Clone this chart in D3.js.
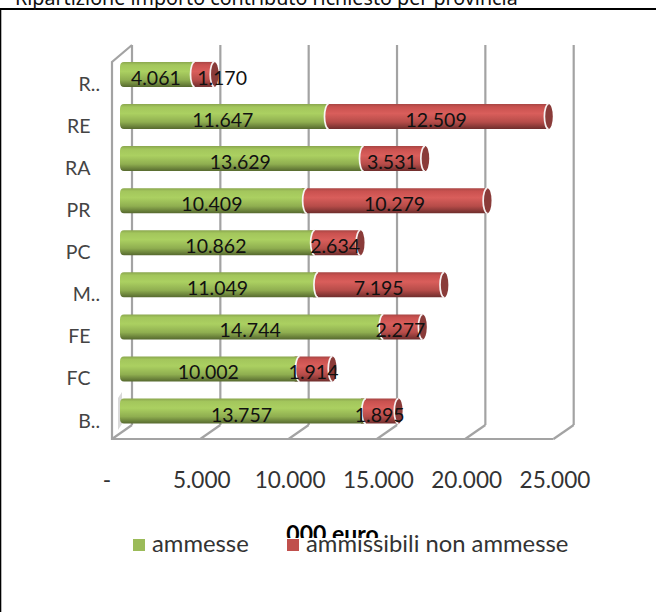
<!DOCTYPE html>
<html><head><meta charset="utf-8">
<script src="https://cdn.jsdelivr.net/npm/d3@7"></script>
<style>html,body{margin:0;padding:0;background:#fff}svg{display:block}</style>
</head><body><div id="c"></div>
<script>
const categories = ["R..","RE","RA","PR","PC","M..","FE","FC","B.."];
const ammesse = [4061,11647,13629,10409,10862,11049,14744,10002,13757];
const nonAmmesse = [1170,12509,3531,10279,2634,7195,2277,1914,1895];
const xTicks = [0,5000,10000,15000,20000,25000];
const xTickLabels = ["-","5.000","10.000","15.000","20.000","25.000"];
const titleText = "Ripartizione importo contributo richiesto per provincia";
const axisTitle = "000 euro";
const legendLabels = ["ammesse","ammissibili non ammesse"];

const W=656,H=612;
const svg=d3.select("#c").append("svg").attr("width",W).attr("height",H);
const defs=svg.append("defs");
function grad(id,stops){
  const g=defs.append("linearGradient").attr("id",id).attr("x1",0).attr("x2",0).attr("y1",0).attr("y2",1);
  stops.forEach(s=>g.append("stop").attr("offset",s[0]).attr("stop-color",s[1]));
}
grad("gG",[[0,"#8aa64e"],[.12,"#a3c65c"],[.38,"#abd061"],[.72,"#8fae50"],[1,"#56692f"]]);
grad("gR",[[0,"#a84644"],[.12,"#c9514f"],[.38,"#d95e5b"],[.72,"#b64c49"],[1,"#6e2d2c"]]);

const font="Lato, 'Open Sans', sans-serif";
// frame
svg.append("line").attr("x1",0).attr("x2",W).attr("y1",9).attr("y2",9).attr("stroke","#000").attr("stroke-width",2);
svg.append("line").attr("x1",0.6).attr("x2",0.6).attr("y1",8).attr("y2",H).attr("stroke","#000").attr("stroke-width",1.4);
svg.append("text").attr("x",15).attr("y",5).attr("font-family","'Noto Sans'").attr("font-size",19.7).attr("fill","#111").text(titleText);

// scales
const xFront=d3.scaleLinear().domain([0,25000]).range([112,553.5]);
const xBack=d3.scaleLinear().domain([0,25000]).range([132,573.7]);
const xBar=d3.scaleLinear().domain([0,25000]).range([120,561.5]);
const y=d3.scaleBand().domain(categories).range([53.5,432]).paddingInner(0.405).paddingOuter(0.2);
const floorY=439,backY=425,wallTop=45,frontTop=62;

const grid="#a3a3a3";
const g=svg.append("g").attr("fill","none").attr("stroke",grid).attr("stroke-width",2.2);
g.selectAll(".v").data(xTicks).join("line").attr("x1",d=>xBack(d)).attr("x2",d=>xBack(d)).attr("y1",wallTop).attr("y2",backY);
g.selectAll(".d").data(xTicks).join("line").attr("x1",d=>xFront(d)).attr("x2",d=>xBack(d)).attr("y1",floorY).attr("y2",backY);
g.append("path").attr("d",`M${xBack(0)},${wallTop}L${xFront(0)},${frontTop}V${floorY}H${xFront(25000)}`);
svg.append("path").attr("d","M118,398L122,392V424L118,430Z").attr("fill","#d9d9d9");

// bars
const bars=svg.selectAll(".bar").data(categories).join("g").attr("transform",d=>`translate(0,${y(d)})`);
const bh=y.bandwidth(),rx=4.2;
const leftArc=(cx)=>`M${cx},0A${rx},${bh/2} 0 0 0 ${cx},${bh}`;
const fmt=v=>d3.format(",")(v).replace(",",".");
bars.each(function(c,i){
  const s=d3.select(this),a=ammesse[i],n=nonAmmesse[i],x0=xBar(0),x1=xBar(a),x2=xBar(a+n);
  // red body, dark end cap and its light rim
  s.append("path").attr("d",`M${x1-2},0H${x2+2}V${bh}H${x1-2}Z`).attr("fill","url(#gR)");
  s.append("ellipse").attr("cx",x2+2).attr("cy",bh/2).attr("rx",rx).attr("ry",bh/2).attr("fill","#8a3b39");
  s.append("path").attr("d",leftArc(x2+2)).attr("fill","none").attr("stroke","#f6f0f0").attr("stroke-width",1.7);
  // green body, concave right end
  s.append("path").attr("d",`M${x0+4},0H${x1+3}A${rx},${bh/2} 0 0 0 ${x1+3},${bh}H${x0+4}Q${x0},${bh} ${x0},${bh-5}V5Q${x0},0 ${x0+4},0Z`).attr("fill","url(#gG)");
  s.append("path").attr("d",leftArc(x1+3)).attr("fill","none").attr("stroke","#f6f6f2").attr("stroke-width",1.7);
  // labels
  const lab=(t,cx)=>s.append("text").attr("x",cx).attr("y",bh/2+10.5).attr("text-anchor","middle").attr("font-family",font).attr("font-size",19.5).attr("fill","#111").text(t);
  lab(fmt(a),(x0+x1)/2);
  lab(fmt(n),(x1+x2)/2+(n===1170?20:0));
  // category label
  const dotted=c.includes("..");
  svg.append("text").attr("x",dotted?100:90.5).attr("y",y(c)+bh/2+16.5).attr("text-anchor","end").attr("font-family",font).attr("font-size",19.5).attr("fill","#444").text(c);
});

// x labels
svg.selectAll(".xl").data(xTicks).join("text").attr("x",d=>d===0?107:xFront(d)+1.5).attr("y",488).attr("text-anchor","middle").attr("font-family",font).attr("font-size",22.6).attr("fill","#333").text((d,i)=>xTickLabels[i]);

// axis title, partly hidden by the legend box as in the reference
svg.append("text").attr("x",332.5).attr("y",542).attr("text-anchor","middle").attr("font-family",font).attr("font-weight",700).attr("font-size",23).attr("fill","#000").text(axisTitle);
svg.append("rect").attr("x",127).attr("y",538).attr("width",450).attr("height",22).attr("fill","#fff");

// legend
const colors=["#9bbb59","#c0504d"];
const lx=[133,287];
legendLabels.forEach((t,i)=>{
  svg.append("rect").attr("x",lx[i]).attr("y",539).attr("width",12).attr("height",12).attr("fill",colors[i]);
  svg.append("text").attr("x",lx[i]+19).attr("y",552).attr("font-family",font).attr("font-size",23.8).attr("fill","#333").text(t);
});
</script></body></html>
